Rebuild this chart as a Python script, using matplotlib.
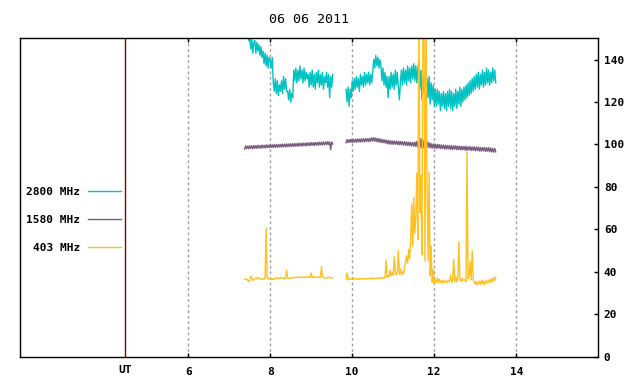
import numpy as np
import matplotlib
matplotlib.use("Agg")
import matplotlib.pyplot as plt

plt.rcParams['font.family'] = ['DejaVu Sans Mono', 'DejaVu Sans']
plt.rcParams['font.weight'] = 'bold'
plt.rcParams['font.size'] = 8

title = "06 06 2011"
labels = ["2800 MHz", "1580 MHz", "403 MHz"]
colors = ["#00c2c2", "#7a5c7e", "#ffc020"]
xticks = [6, 8, 10, 12, 14]
yticks = [0, 20, 40, 60, 80, 100, 120, 140]
ut_hour = 4.456

# sampling: 1.5 min (0.025 h), two observing blocks
step = 0.025
start1 = 7.375
start2 = 9.85

# 2800 MHz
c1 = [155, 154, 156, 153,
      149, 151, 145, 150, 143, 148,
      149, 143, 148, 144, 147, 142, 146, 141,
      144, 138, 143, 137, 142, 136, 141,
      140, 136, 141,
      129, 125, 131, 124, 130, 123, 128, 125, 130, 124, 132, 126, 131, 125,
      125, 121, 126, 120, 124, 122,
      135, 130, 136, 129, 135, 130, 137, 131, 135, 129, 136, 130, 134, 131,
      133, 127, 134, 128, 135, 127, 133, 126, 134, 129,
      135, 127, 133, 128, 134, 126, 132, 129, 134, 127,
      133, 122, 132, 127, 133]
c2 = [126, 120, 127, 118, 126, 122,
      130, 125, 131, 126, 132, 127, 131, 125, 133, 128,
      132, 127, 134, 128, 133, 129, 134, 128, 133, 129, 134,
      140, 136, 142, 137, 141, 136, 140,
      137, 130, 136, 128, 134, 127, 132, 122,
      132, 126, 134, 127, 133, 126, 135, 128, 134, 127,
      121, 129, 135, 128, 136, 129, 135, 128, 137, 130,
      136, 129, 137, 131, 138, 130, 137, 129, 136,
      139, 126, 135, 121, 133, 124, 134, 119, 131, 122,
      132, 119, 129, 121, 128, 118,
      126, 118, 126, 119, 125, 116, 124, 118, 125, 117,
      124, 116, 125, 118, 126, 117, 125, 116, 124, 118,
      126, 117, 125, 119, 127, 118, 126, 120, 127, 121,
      128, 122,
      129, 123, 130, 124, 131, 125, 132, 126, 133, 127,
      134, 126, 133, 128, 135, 127, 134, 128, 136, 129,
      135, 128, 134, 129, 136, 130, 135, 129]

# 1580 MHz
p1 = [97.8, 99.3, 98.0, 99.2, 97.9, 99.4, 98.1, 99.3, 98.0, 99.5,
      98.2, 99.4, 98.1, 99.6, 98.3, 99.5, 98.2, 99.7, 98.4, 99.6,
      98.3, 99.8, 98.5, 99.7, 98.4, 99.9, 98.6, 99.8, 98.5, 100.0,
      98.7, 99.9, 98.6, 100.1, 98.8, 100.0, 98.7, 100.2, 98.9, 100.1,
      98.8, 100.3, 99.0, 100.2, 98.9, 100.4, 99.1, 100.3, 99.0, 100.5,
      99.2, 100.4, 99.1, 100.6, 99.3, 100.5, 99.2, 100.7, 99.4, 100.6,
      99.3, 100.8, 99.5, 100.7, 99.4, 100.9, 99.6, 100.8, 99.5, 101.0,
      99.7, 100.9, 99.6, 101.1, 99.8, 101.0, 99.7, 101.2, 99.9, 101.1,
      99.8, 101.3, 100.0, 101.2, 97.5, 101.1, 100.2]
p2 = [100.8, 102.3, 100.9, 102.2, 101.0, 102.4, 100.9, 102.3, 101.1, 102.5,
      101.0, 102.6, 101.2, 102.5, 101.1, 102.7, 101.3, 102.6, 101.2, 102.8,
      101.4, 102.7, 101.3, 102.9, 101.5, 103.1, 101.6, 103.2, 101.5, 103.0,
      101.3, 102.8, 101.1, 102.6, 100.9, 102.4, 100.8, 102.2, 100.7, 102.1,
      100.3, 101.9, 100.2, 101.8, 100.1, 101.7, 100.0, 101.6, 100.1, 101.5,
      99.9, 101.5, 99.8, 101.4, 99.9, 101.3, 99.7, 101.3, 99.6, 101.2,
      99.5, 101.1, 99.4, 101.0, 99.3, 100.9, 99.2, 101.1, 99.0, 101.4,
      98.8, 102.3, 98.5, 102.8, 98.2, 102.0, 98.4, 102.4, 98.3, 101.3,
      98.6, 100.9, 98.4, 100.4, 98.2, 100.2, 98.3, 100.1, 98.1, 100.0,
      98.2, 99.9, 98.0, 99.8, 98.1, 99.7, 97.9, 99.6, 97.8, 99.5,
      97.9, 99.5, 97.7, 99.4, 97.6, 99.3, 97.8, 99.4, 97.5, 99.2,
      97.6, 99.2, 97.4, 99.1, 97.5, 99.0, 97.3, 99.1, 97.2, 98.9,
      97.4, 99.0, 97.1, 98.8, 97.2, 98.9, 97.0, 98.7, 97.1, 98.8,
      96.9, 98.6, 96.8, 98.5, 97.0, 98.6, 96.7, 98.4, 96.8, 98.5,
      96.6, 98.3, 96.5, 98.2, 96.3, 98.1, 96.5]

# 403 MHz
g1 = [36.6, 36.4, 36.5, 36.1, 35.4, 36.0, 37.9, 37.2, 36.0, 36.3,
      36.7, 37.0, 36.8, 37.2, 37.0, 36.6, 36.4, 36.8, 36.5, 36.9,
      36.7, 60.5, 37.2, 36.8, 36.6, 37.0, 36.3, 36.9, 36.2, 36.6,
      36.9, 37.2, 36.8, 37.1, 36.9, 37.3, 37.0, 36.8, 37.2, 36.9,
      37.1, 40.8, 37.0, 36.8, 37.1, 36.9, 37.2, 37.4, 37.1, 37.3,
      37.2, 37.5, 37.3, 37.6, 37.3, 37.5, 37.2, 37.4, 37.6, 37.3,
      37.5, 37.4, 37.7, 37.4, 37.3, 39.5, 37.5, 37.4, 37.6, 37.3,
      37.5, 37.6, 37.4, 37.5, 37.3, 42.5, 37.6, 37.4, 37.2, 36.9,
      37.0, 37.4, 37.5, 37.3, 37.2, 37.0, 37.1]
g2 = [36.6, 39.5, 36.2, 36.8, 36.5, 36.7, 36.4, 36.6, 36.9, 36.5,
      36.7, 36.4, 36.8, 36.5, 36.9, 36.6, 36.8, 36.5, 36.7, 36.9,
      36.6, 36.8, 37.0, 36.7, 36.9, 36.6, 37.1, 36.8, 37.0, 36.7,
      36.9, 37.2, 36.8, 37.0, 37.3, 36.9, 37.2, 37.5, 37.1, 45.5,
      37.4, 38.2, 37.6, 40.8, 38.1, 39.5, 38.4, 47.0, 39.2, 38.5,
      40.2, 50.0, 38.8, 41.5, 38.6, 40.0, 39.2, 42.0, 45.0, 47.5,
      44.0, 50.5, 46.0, 55.0, 72.0, 52.0, 75.0, 58.0, 66.0, 86.5,
      55.0, 165.0, 68.0, 85.5, 48.0, 170.0, 160.0, 45.0, 168.0, 80.0,
      45.0, 87.0, 38.0, 52.0, 35.0, 41.0, 34.5, 36.0, 35.2, 37.0,
      34.8, 36.5, 35.0, 35.8, 34.6, 36.2, 35.1, 35.6, 34.9, 36.0,
      35.2, 35.8, 38.5, 35.0, 36.4, 46.0, 35.5, 38.0, 35.3, 36.8,
      54.0, 36.2, 35.4, 37.0, 35.8, 36.5, 36.0, 35.4, 96.5, 36.8,
      38.0, 45.0, 36.2, 50.0, 36.5, 35.0, 34.2, 35.5, 33.8, 34.8,
      35.6, 34.0, 36.2, 34.5, 35.8, 33.9, 35.2, 36.0, 34.6, 35.4,
      36.4, 35.0, 36.8, 35.5, 37.2, 36.0, 37.5]

series = [(c1, c2), (p1, p2), (g1, g2)]

fig = plt.figure(figsize=(6.4, 3.84), dpi=100)
ax = fig.add_axes([20 / 640, 1 - 356.7 / 384, 578.3 / 640, 318.4 / 384])

handles = []
for (s1, s2), lab, col in zip(series, labels, colors):
    t1 = start1 + step * np.arange(len(s1))
    t2 = start2 + step * np.arange(len(s2))
    h, = ax.plot(t1, s1, color=col, lw=1.0, label=lab)
    ax.plot(t2, s2, color=col, lw=1.0)
    handles.append(h)

ax.axvline(ut_hour, color="#8b0000", lw=1.0)
ax.text(ut_hour, -0.041, "UT", transform=ax.get_xaxis_transform(),
        ha="center", va="center")

ax.set_xlim(1.9, 16.0)
ax.set_ylim(0, 150)
ax.set_xticks(xticks)
ax.set_yticks(yticks)
ax.yaxis.tick_right()
ax.tick_params(axis="x", direction="in", length=3, width=1, top=True,
               bottom=True, pad=7.5)
ax.tick_params(axis="y", direction="in", length=3, width=1, right=True,
               left=False, pad=4)
ax.grid(axis="x", color="#a0a0a0", linestyle=(0, (2, 2)), lw=1)
ax.set_axisbelow(True)
for sp in ax.spines.values():
    sp.set_linewidth(1)
    sp.set_color("black")

ax.set_title(title, pad=11)

ax.legend(handles=handles, loc="center right", markerfirst=False,
          frameon=False, handlelength=3.0, handletextpad=0.7,
          labelspacing=1.63, borderpad=0, borderaxespad=0,
          bbox_to_anchor=(121 / 640, 1 - 220 / 384),
          bbox_transform=fig.transFigure)

fig.savefig("out.png", dpi=100)
